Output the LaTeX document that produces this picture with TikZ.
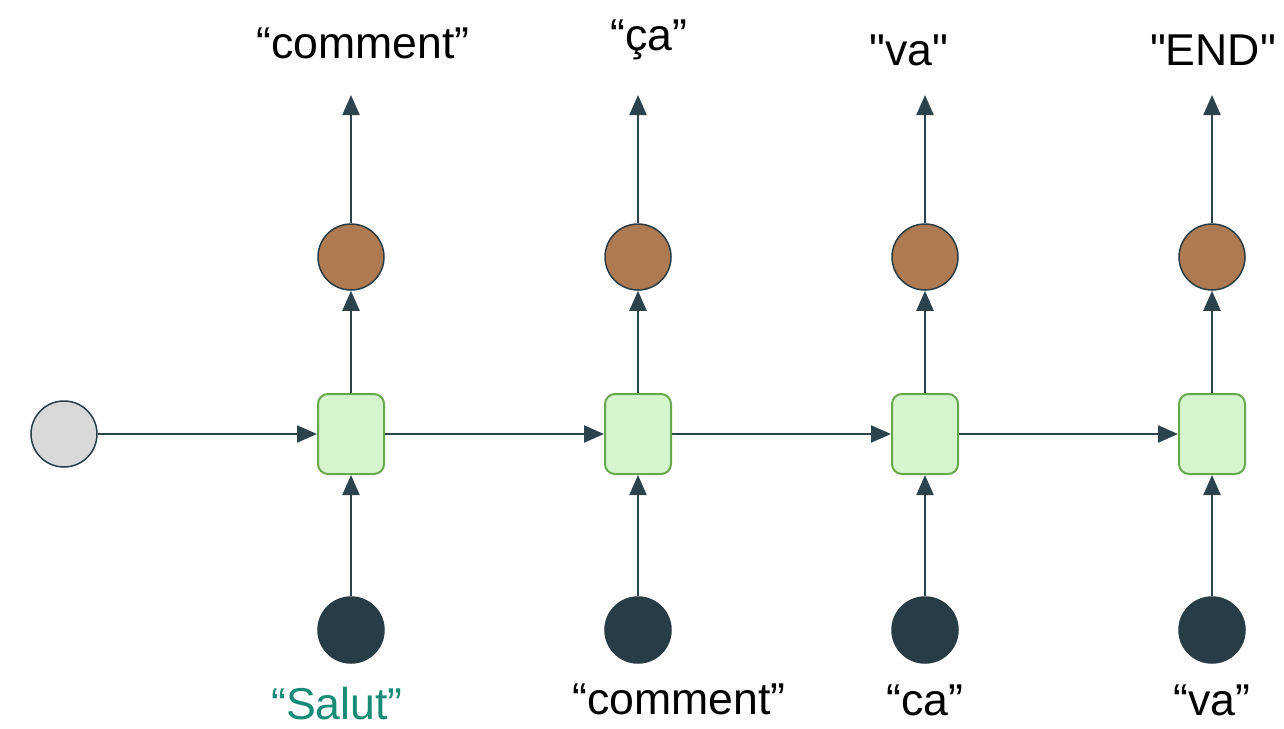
\documentclass[tikz,border=0pt]{standalone}
\usepackage{fontspec}
\newfontfamily\labelfont{Liberation Sans}
\usetikzlibrary{arrows.meta}
\definecolor{ink}{HTML}{283C46}
\definecolor{wire}{HTML}{2C424D}
\definecolor{cellfill}{HTML}{D5F5CF}
\definecolor{cellline}{HTML}{68A84C}
\definecolor{outfill}{HTML}{AE7A52}
\definecolor{initfill}{HTML}{D9D9D9}
\definecolor{teal}{HTML}{178B76}
\begin{document}
\begin{tikzpicture}[x=1pt,y=-1pt,
  cell/.style={draw=cellline, fill=cellfill, line width=2pt, rounded corners=10pt,
    minimum width=66pt, minimum height=80pt, inner sep=0pt},
  outnode/.style={circle, draw=ink, fill=outfill, line width=1.5pt, minimum size=66pt, inner sep=0pt},
  innode/.style={circle, draw=ink, fill=ink, line width=1.5pt, minimum size=66pt, inner sep=0pt},
  initnode/.style={circle, draw=ink, fill=initfill, line width=1.5pt, minimum size=66pt, inner sep=0pt},
  conn/.style={draw=wire, line width=2.2pt, -{Triangle[length=20pt,width=17pt]}},
  lbl/.style={font=\labelfont\fontsize{44.6}{50}\selectfont, anchor=base, inner sep=0pt}]
\useasboundingbox (0,0) rectangle (1284,728);

% initial state
\node[initnode] (h0) at (64,434) {};

% recurrent cells, outputs and inputs
\foreach \i/\x in {1/351,2/638,3/925,4/1212}{
  \node[cell] (c\i) at (\x,434) {};
  \node[outnode] (o\i) at (\x,257) {};
  \node[innode] (x\i) at (\x,630) {};
  \coordinate (t\i) at (\x,95);
}

% connectors
\draw[conn] (h0) -- (c1);
\draw[conn] (c1) -- (c2);
\draw[conn] (c2) -- (c3);
\draw[conn] (c3) -- (c4);
\foreach \i in {1,2,3,4}{
  \draw[conn] (x\i) -- (c\i);
  \draw[conn] (c\i) -- (o\i);
  \draw[conn] (o\i.north) -- (t\i);
}

% output words
\node[lbl] (y1) at (363,58) {“comment”};
\node[lbl] (y2) at (649,50) {“ça”};
\node[lbl] (y3) at (909,65) {"va"};
\node[lbl] (y4) at (1213,65) {"END"};

% input words
\node[lbl, text=teal] (w1) at (337,719) {“Salut”};
\node[lbl] (w2) at (679,714) {“comment”};
\node[lbl] (w3) at (925,715) {“ca”};
\node[lbl] (w4) at (1212,715) {“va”};
\end{tikzpicture}
\end{document}
